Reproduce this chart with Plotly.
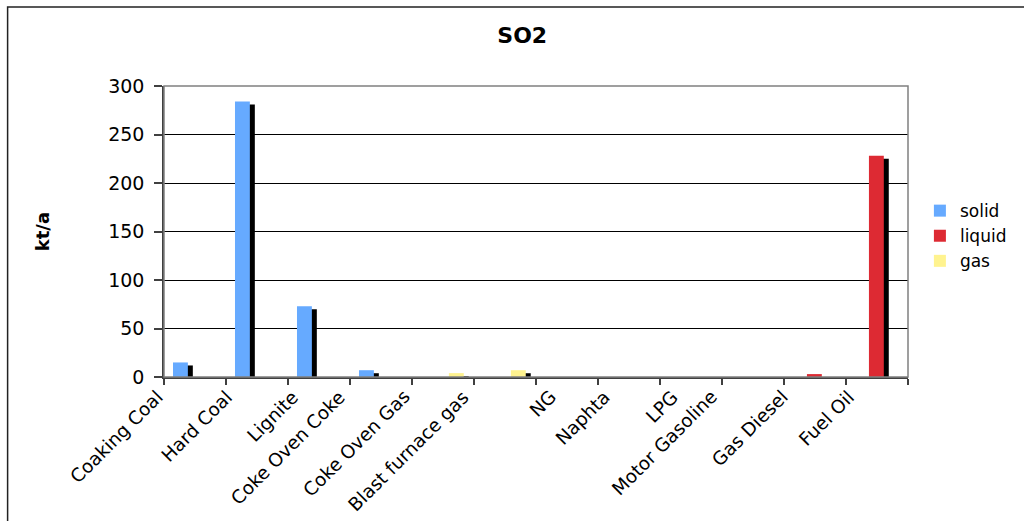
import plotly.graph_objects as go

# SO2 emissions by fuel, kt/a
fuels = ["Coaking Coal", "Hard Coal", "Lignite", "Coke Oven Coke", "Coke Oven Gas",
         "Blast furnace gas", "NG", "Naphta", "LPG", "Motor Gasoline", "Gas Diesel", "Fuel Oil"]
solid = [15, 284, 73, 7, 0, 0, 0, 0, 0, 0, 0, 0]
liquid = [0, 0, 0, 0, 0, 0, 0, 0, 0, 0, 3, 228]
gas = [0, 0, 0, 0, 4, 7, 0, 0, 0, 0, 0, 0]
y_ticks = [0, 50, 100, 150, 200, 250, 300]

series = [
    ("solid", solid, "#66AAFF", -0.355),
    ("liquid", liquid, "#DD2A33", -0.13),
    ("gas", gas, "#FFF38F", 0.095),
]

BAR_W = 0.24          # bar width in category units
SHADOW_DX = 0.08      # shadow shift to the right (category units)
SHADOW_DY = 3.1       # shadow drop (value units)
PLOT_W = 747          # plot-area width in px
PLOT_H = 291          # plot-area height in px
LABEL_SIZE = 18.5

xs = list(range(len(fuels)))
n_cat = len(fuels)


def label_x(i, name):
    # slanted category labels end left of the slot centre, longer names further left;
    # the rotated box reaches a few px right of the text end
    end_px = (i + 0.5) * PLOT_W / n_cat - (10 + 2.1 * min(len(name), 14))
    return (end_px + 9) / PLOT_W


fig = go.Figure()

# drop shadows first so they sit behind the coloured bars
for name, vals, color, off in series:
    fig.add_trace(go.Bar(
        x=xs, y=vals, base=-SHADOW_DY, width=BAR_W, offset=off + SHADOW_DX,
        marker=dict(color="black", line=dict(width=0)),
        showlegend=False, hoverinfo="skip",
    ))

for name, vals, color, off in series:
    fig.add_trace(go.Bar(
        x=xs, y=vals, name=name, width=BAR_W, offset=off,
        marker=dict(color=color, line=dict(width=0)),
    ))

font = "DejaVu Sans"
fig.update_layout(
    width=1024, height=521,
    margin=dict(l=164, r=113, t=86, b=144),
    barmode="overlay",
    paper_bgcolor="white", plot_bgcolor="white",
    font=dict(family=font, color="black", size=17),
    title=dict(text="<b>SO2</b>", x=0.51, xanchor="center", y=0.932, yanchor="middle",
               font=dict(family=font, size=22, color="black")),
    legend=dict(x=1.016, xanchor="left", y=0.632, yanchor="top",
                font=dict(family=font, size=17), itemwidth=30,
                bgcolor="rgba(0,0,0,0)", traceorder="normal", tracegroupgap=0),
    showlegend=True,
)

fig.update_xaxes(
    range=[-0.5, n_cat - 0.5],
    automargin=False,
    showticklabels=False,
    ticks="",
    showgrid=False, zeroline=False,
    showline=True, linecolor="#404040", linewidth=1.5,
    minor=dict(tickmode="array", tickvals=[i - 0.5 for i in range(n_cat + 1)],
               ticks="outside", ticklen=6, tickcolor="#404040", tickwidth=1.5,
               showgrid=False),
)

fig.update_yaxes(
    range=[0, 300],
    automargin=False,
    tickmode="array", tickvals=y_ticks,
    ticks="outside", ticklen=8, tickcolor="#404040", tickwidth=1.5,
    showgrid=True, gridcolor="black", gridwidth=1,
    zeroline=False,
    showline=True, linecolor="#404040", linewidth=1.5,
    tickfont=dict(family=font, size=19, color="black"),
    ticklabelstandoff=6,
)

# slanted category labels
for i, name in enumerate(fuels):
    fig.add_annotation(text=name, xref="paper", yref="paper",
                       x=label_x(i, name), y=-8 / PLOT_H,
                       xanchor="right", yanchor="top", textangle=-45,
                       showarrow=False, borderpad=0,
                       font=dict(family=font, size=LABEL_SIZE, color="black"))

# plot-area frame (grey, top and right) and outer chart border
fig.add_shape(type="rect", xref="paper", yref="paper", x0=0, x1=1, y0=0, y1=1,
              line=dict(color="#808080", width=1.5), layer="above")
fig.add_shape(type="rect", xref="paper", yref="paper",
              x0=-0.2102, x1=1.3, y0=-0.6, y1=1.2715,
              line=dict(color="#222222", width=1.5), layer="above")

# y-axis title
fig.add_annotation(text="<b>kt/a</b>", xref="paper", yref="paper",
                   x=-0.163, y=0.5, xanchor="center", yanchor="middle",
                   textangle=-90, showarrow=False,
                   font=dict(family=font, size=18, color="black"))

fig.write_html("out.html")
